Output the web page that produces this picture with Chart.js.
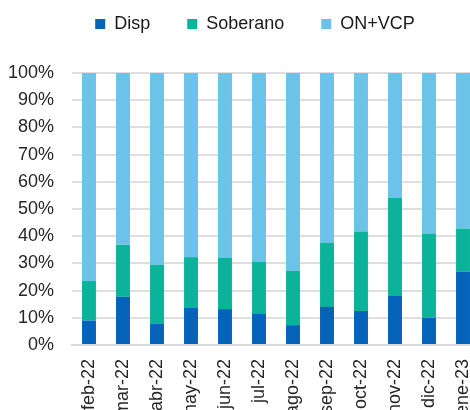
<!DOCTYPE html>
<html>
<head>
<meta charset="utf-8">
<script src="https://cdn.jsdelivr.net/npm/chart.js@4"></script>
<style>
  html, body { margin: 0; padding: 0; background: #fff; overflow: hidden; }
  #wrap { width: 470px; height: 410px; overflow: hidden; }
</style>
</head>
<body>
<div id="wrap"><canvas id="grafico" width="480" height="433"></canvas></div>
<script>
// meses
const meses = ["feb-22", "mar-22", "abr-22", "may-22", "jun-22", "jul-22", "ago-22", "sep-22", "oct-22", "nov-22", "dic-22", "ene-23"];

// participacion (%)
const disp = [9.0, 17.7, 7.7, 13.6, 13.2, 11.4, 7.3, 14.0, 12.5, 18.0, 10.0, 26.9];
const soberano = [14.5, 19.2, 21.8, 18.7, 18.8, 19.1, 20.0, 23.7, 29.2, 36.0, 31.0, 15.9];
const onVcp = [76.5, 63.1, 70.5, 67.7, 68.0, 69.5, 72.7, 62.3, 58.3, 46.0, 59.0, 57.2];

const yTicks = [0, 10, 20, 30, 40, 50, 60, 70, 80, 90, 100];

const fuente = "'Liberation Sans', Arial, sans-serif";

// mueve la leyenda donde esta en el original
const moverLeyenda = {
    id: "moverLeyenda",
    afterLayout(chart) {
        const lg = chart.legend;
        lg.left += 11; lg.right += 11;
        lg.top -= 30; lg.bottom -= 30;
    }
};

const ctx = document.getElementById("grafico").getContext("2d");
new Chart(ctx, {
    type: "bar",
    data: {
        labels: meses,
        datasets: [
            { label: "Disp", data: disp, backgroundColor: "#0563BA" },
            { label: "Soberano", data: soberano, backgroundColor: "#0BB39B" },
            { label: "ON+VCP", data: onVcp, backgroundColor: "#6CC3EA" }
        ]
    },
    options: {
        responsive: false,
        animation: false,
        layout: { padding: { left: 8, top: 8, right: 0, bottom: 0 } },
        datasets: { bar: { categoryPercentage: 1, barPercentage: 0.41 } },
        plugins: {
            tooltip: { enabled: false },
            legend: {
                position: "top",
                labels: {
                    boxWidth: 10,
                    boxHeight: 10,
                    padding: 37,
                    color: "#1a1a1a",
                    font: { family: fuente, size: 18 }
                }
            }
        },
        scales: {
            x: {
                stacked: true,
                afterFit: scale => { scale.paddingLeft = 0; scale.paddingRight = 0; },
                grid: { display: false, drawTicks: false },
                border: { display: true, color: "#d9d9d9", width: 2 },
                ticks: {
                    color: "#262626",
                    font: { family: fuente, size: 18 },
                    minRotation: 90,
                    maxRotation: 90,
                    padding: 14,
                    autoSkip: false
                }
            },
            y: {
                stacked: true,
                min: 0,
                max: 100,
                afterBuildTicks: axis => { axis.ticks = yTicks.map(v => ({ value: v })); },
                afterFit: scale => { scale.width = 64; },
                grid: { color: "#dedede", lineWidth: 2, drawTicks: false },
                border: { display: false },
                ticks: {
                    color: "#262626",
                    font: { family: fuente, size: 18 },
                    padding: 18,
                    callback: v => v + "%"
                }
            }
        }
    },
    plugins: [moverLeyenda]
});
</script>
</body>
</html>
